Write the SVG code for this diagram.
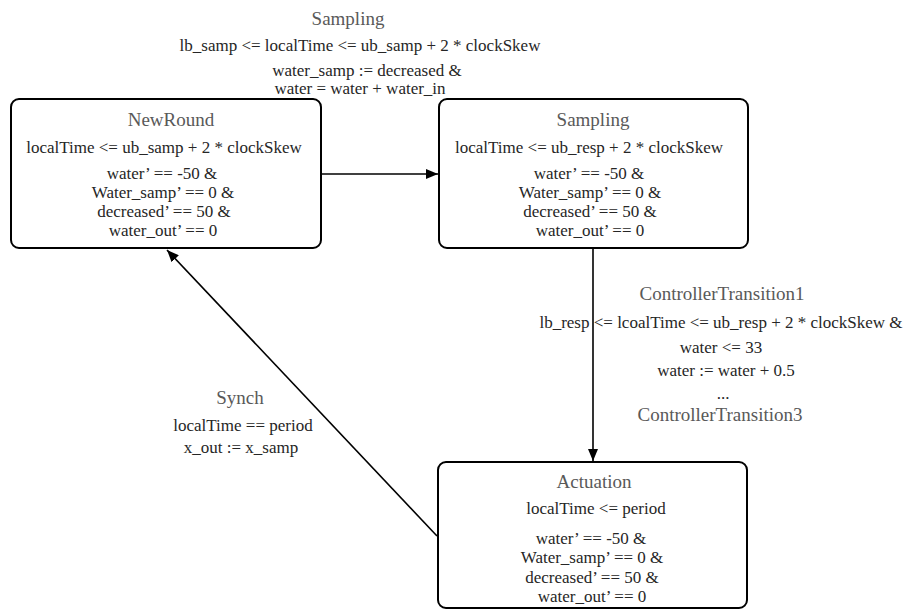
<svg xmlns="http://www.w3.org/2000/svg" width="910" height="610" viewBox="0 0 910 610">
<style>
  .box{fill:#ffffff;stroke:#000000;stroke-width:2}
  .edge{fill:none;stroke:#000000;stroke-width:1.6}
  text{font-family:"Liberation Serif","Times New Roman",serif;text-anchor:middle}
  .t{font-size:19px;fill:#595959}
  .b{font-size:17px;fill:#262626}
</style>
<defs>
  <marker id="arr" viewBox="0 0 12 10" refX="12" refY="5" markerWidth="12" markerHeight="10" markerUnits="userSpaceOnUse" orient="auto">
    <path d="M0,0 L12,5 L0,10 Z" fill="#000000"/>
  </marker>
</defs>
<g id="connectors">
  <line class="edge" x1="321" y1="174" x2="438" y2="174" marker-end="url(#arr)"/>
  <line class="edge" x1="593" y1="248" x2="593" y2="461" marker-end="url(#arr)"/>
  <line class="edge" x1="437" y1="536" x2="167" y2="250" marker-end="url(#arr)"/>
</g>
<g id="label-sampling">
  <text class="t" x="348" y="25">Sampling</text>
  <text class="b" x="360" y="51">lb_samp &lt;= localTime &lt;= ub_samp + 2 * clockSkew</text>
  <text class="b" x="367" y="76">water_samp := decreased &amp;</text>
  <text class="b" x="360" y="94">water = water + water_in</text>
</g>
<g id="label-controller">
  <text class="t" x="722" y="300">ControllerTransition1</text>
  <text class="b" x="721" y="328">lb_resp &lt;= lcoalTime &lt;= ub_resp + 2 * clockSkew &amp;</text>
  <text class="b" x="721" y="353">water &lt;= 33</text>
  <text class="b" x="726" y="376">water := water + 0.5</text>
  <text class="b" x="723" y="399">...</text>
  <text class="t" x="720" y="421">ControllerTransition3</text>
</g>
<g id="label-synch">
  <text class="t" x="240" y="404">Synch</text>
  <text class="b" x="243" y="431">localTime == period</text>
  <text class="b" x="241" y="453">x_out := x_samp</text>
</g>
<g id="node-newround">
  <rect class="box" x="11" y="99" width="310" height="149" rx="8"/>
  <text class="t" x="171" y="126">NewRound</text>
  <text class="b" x="164" y="153">localTime &lt;= ub_samp + 2 * clockSkew</text>
  <text class="b" x="162" y="179">water’ == -50 &amp;</text>
  <text class="b" x="163" y="198">Water_samp’ == 0 &amp;</text>
  <text class="b" x="164" y="217">decreased’ == 50 &amp;</text>
  <text class="b" x="163" y="236">water_out’ == 0</text>
</g>
<g id="node-sampling">
  <rect class="box" x="439" y="99" width="309" height="149" rx="8"/>
  <text class="t" x="593" y="126">Sampling</text>
  <text class="b" x="589" y="153">localTime &lt;= ub_resp + 2 * clockSkew</text>
  <text class="b" x="589" y="179">water’ == -50 &amp;</text>
  <text class="b" x="590" y="198">Water_samp’ == 0 &amp;</text>
  <text class="b" x="590" y="217">decreased’ == 50 &amp;</text>
  <text class="b" x="590" y="236">water_out’ == 0</text>
</g>
<g id="node-actuation">
  <rect class="box" x="438" y="462" width="309" height="146" rx="8"/>
  <text class="t" x="594" y="488">Actuation</text>
  <text class="b" x="596" y="514">localTime &lt;= period</text>
  <text class="b" x="591" y="544">water’ == -50 &amp;</text>
  <text class="b" x="592" y="563">Water_samp’ == 0 &amp;</text>
  <text class="b" x="592" y="583">decreased’ == 50 &amp;</text>
  <text class="b" x="592" y="602">water_out’ == 0</text>
</g>
</svg>
